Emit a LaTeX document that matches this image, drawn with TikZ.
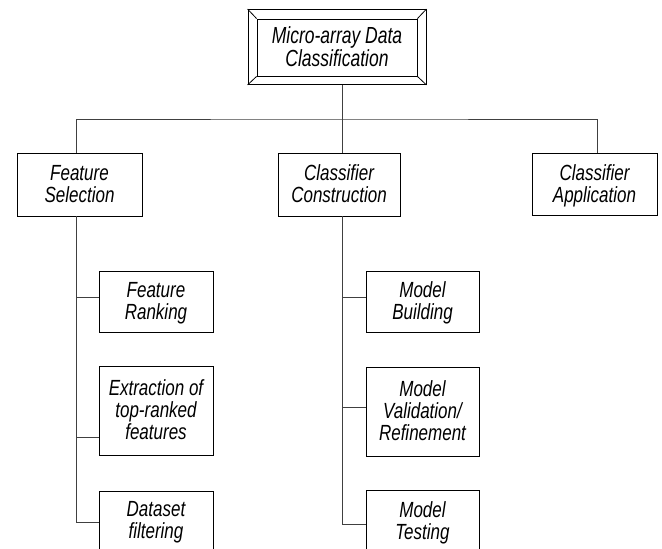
\documentclass[tikz,border=0pt]{standalone}
\usepackage{graphicx}
\usepackage{fontspec}
\setmainfont{Liberation Sans}
% tall label text: lines stacked and stretched vertically by \stackscale
\newcommand\stackscale{1.29}
\newcommand\tallstack[1]{\raisebox{-2.5pt}[\height][\depth]{%
  \scalebox{1}[\stackscale]{\begin{tabular}{@{}c@{}}#1\end{tabular}}}}
\begin{document}
\begin{tikzpicture}[x=1pt,y=-1pt,
  box/.style={draw=black,line width=0.9pt,fill=white,align=center,inner sep=0pt,
    font={\fontsize{17}{16.3}\selectfont\itshape\renewcommand\stackscale{1.29}}},
  conn/.style={draw=black!75,line width=1pt},
  framebox/.style={draw=black,line width=0.9pt,inner sep=0pt}]
\clip (0,0) rectangle (662,549);
\fill[white] (0,0) rectangle (662,549);

% x positions of the vertical connector runs
\coordinate (fsx) at (76,0);
\coordinate (ccx) at (342,0);
\coordinate (cax) at (597,0);

% root: bevelled frame around the title box
\node[framebox,minimum width=178pt,minimum height=75pt] (frame) at (337,47) {};
\node[box,minimum width=160pt,minimum height=57pt,
  font={\fontsize{17.5}{15.8}\selectfont\itshape\renewcommand\stackscale{1.33}}] (root) at (337,47.5)
  {\tallstack{Micro-array Data\\Classification}};
\foreach \c in {north west,north east,south west,south east}
  \draw[line width=0.8pt] (frame.\c) -- (root.\c);

% first level
\node[box,minimum width=125pt,minimum height=63pt] (fs) at (79.5,184.5) {\tallstack{Feature\\Selection}};
\node[box,minimum width=122pt,minimum height=63pt] (cc) at (339,184.5) {\tallstack{Classifier\\Construction}};
\node[box,minimum width=125pt,minimum height=62pt] (ca) at (594.5,184) {\tallstack{Classifier\\Application}};

% feature selection steps
\node[box,minimum width=114pt,minimum height=61pt] (fr) at (156,301.5) {\tallstack{Feature\\Ranking}};
\node[box,minimum width=114pt,minimum height=89pt] (ex) at (156,410.5) {\tallstack{Extraction of\\top-ranked\\features}};
\node[box,minimum width=114pt,minimum height=60pt] (df) at (156,521) {\tallstack{Dataset\\filtering}};

% classifier construction steps
\node[box,minimum width=113pt,minimum height=61pt] (mb) at (422.5,301.5) {\tallstack{Model\\Building}};
\node[box,minimum width=113pt,minimum height=89pt] (mv) at (422.5,411.5) {\tallstack{Model\\Validation/\\Refinement}};
\node[box,minimum width=113pt,minimum height=62pt] (mt) at (422.5,521) {\tallstack{Model\\Testing}};

% bus from the root to the first level
\coordinate (bus) at (342,119);
\draw[conn] (frame.south -| ccx) -- (bus);
\draw[conn] (fs.north -| fsx) |- (bus) -| (ca.north -| cax);
\draw[conn] (cc.north -| ccx) -- (bus);

% branches under feature selection
\draw[conn] (fs.south -| fsx) |- ([yshift=4.5pt]fr.west);
\draw[conn] (fs.south -| fsx) |- ([yshift=-26.5pt]ex.west);
\draw[conn] (fs.south -| fsx) |- ([yshift=-1pt]df.west);

% branches under classifier construction
\draw[conn] (cc.south -| ccx) |- ([yshift=4.5pt]mb.west);
\draw[conn] (cc.south -| ccx) |- ([yshift=4.5pt]mv.west);
\draw[conn] (cc.south -| ccx) |- ([yshift=-3pt]mt.west);
\end{tikzpicture}
\end{document}
